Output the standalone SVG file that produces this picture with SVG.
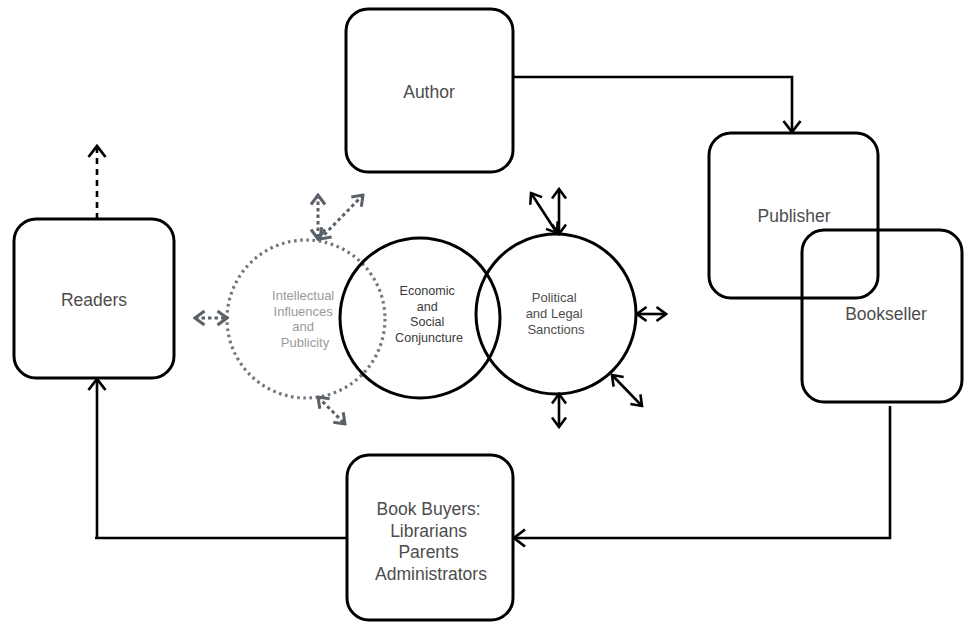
<svg xmlns="http://www.w3.org/2000/svg" width="965" height="623" viewBox="0 0 965 623">
  <style>
    .box { fill: none; stroke: #000; stroke-width: 3; }
    .lbl { font-family: "Liberation Sans", Arial, sans-serif; fill: #4d4d4d; text-anchor: middle; }
    .conn { fill: none; stroke: #000; stroke-width: 2.6; }
    .ring { fill: none; stroke: #000; stroke-width: 3; }
    .dotring { fill: none; stroke: #70767e; stroke-width: 3.2; stroke-dasharray: 2.6 3.6; }
    .dbl { fill: none; stroke: #000; stroke-width: 2.6; marker-start: url(#ah); marker-end: url(#ah); }
    .gdbl { fill: none; stroke: #5b6169; stroke-width: 3; stroke-dasharray: 3.5 3; marker-start: url(#gh); marker-end: url(#gh); }
  </style>
  <defs>
    <!-- large open arrowhead for the flow lines -->
    <marker id="big" viewBox="-14 -10 16 20" refX="0" refY="0" markerWidth="16" markerHeight="20" markerUnits="userSpaceOnUse" orient="auto-start-reverse">
      <path d="M-11,-8.5 L0,0 L-11,8.5" fill="none" stroke="#000" stroke-width="2.8"/>
    </marker>
    <!-- smaller heads for the two-way influence arrows -->
    <marker id="ah" viewBox="-12 -9 14 18" refX="0" refY="0" markerWidth="14" markerHeight="18" markerUnits="userSpaceOnUse" orient="auto-start-reverse">
      <path d="M-9.5,-7 L0,0 L-9.5,7" fill="none" stroke="#000" stroke-width="2.6"/>
    </marker>
    <marker id="gh" viewBox="-12 -9 14 18" refX="0" refY="0" markerWidth="14" markerHeight="18" markerUnits="userSpaceOnUse" orient="auto-start-reverse">
      <path d="M-9.5,-7 L0,0 L-9.5,7" fill="none" stroke="#5b6169" stroke-width="3"/>
    </marker>
  </defs>

  <!-- flow connectors -->
  <g id="connectors">
    <polyline class="conn" points="513,77 792,77 792,132" marker-end="url(#big)"/>
    <polyline class="conn" points="890,406 890,538 514,538" marker-end="url(#big)"/>
    <polyline class="conn" points="347,538 95,538"/>
    <line class="conn" x1="97" y1="539" x2="97" y2="379" marker-end="url(#big)"/>
    <line class="conn" x1="97" y1="219" x2="97" y2="146" stroke-dasharray="6 5" marker-end="url(#big)"/>
  </g>

  <g id="author">
    <rect class="box" x="346" y="9" width="167" height="163" rx="22"/>
    <text class="lbl" x="429" y="98" font-size="17.5">Author</text>
  </g>

  <g id="publisher">
    <rect class="box" x="709" y="133" width="169" height="165" rx="22"/>
    <text class="lbl" x="794" y="222" font-size="17.5">Publisher</text>
  </g>

  <g id="bookseller">
    <rect class="box" x="802" y="230" width="160" height="172" rx="22"/>
    <text class="lbl" x="886" y="320" font-size="17.5">Bookseller</text>
  </g>

  <g id="readers">
    <rect class="box" x="14" y="219" width="160" height="159" rx="22"/>
    <text class="lbl" x="94" y="306" font-size="17.5">Readers</text>
  </g>

  <g id="book-buyers">
    <rect class="box" x="347" y="455" width="166" height="165" rx="22"/>
    <text class="lbl" x="431" y="515" font-size="17.5">
      <tspan x="431">Book Buyers:</tspan>
      <tspan x="431" dy="21.5">Librarians</tspan>
      <tspan x="431" dy="21.5">Parents</tspan>
      <tspan x="431" dy="21.5">Administrators</tspan>
    </text>
  </g>

  <g id="intellectual-influences">
    <circle class="dotring" cx="306" cy="319" r="79"/>
    <text class="lbl" x="305" y="300" font-size="13" style="fill:#9a9a9a">
      <tspan x="305">Intellectual</tspan>
      <tspan x="305" dy="15.7">Influences</tspan>
      <tspan x="305" dy="15.7">and</tspan>
      <tspan x="305" dy="15.7">Publicity</tspan>
    </text>
    <line class="gdbl" x1="318" y1="195" x2="318" y2="239"/>
    <line class="gdbl" x1="363" y1="195" x2="320" y2="239"/>
    <line class="gdbl" x1="195" y1="318" x2="227" y2="318"/>
    <line class="gdbl" x1="318" y1="397" x2="345" y2="424"/>
  </g>

  <g id="economic-social">
    <circle class="ring" cx="420" cy="318" r="80"/>
    <text class="lbl" x="429" y="295" font-size="12.6" style="fill:#3a3a3a">
      <tspan x="429">Economic</tspan>
      <tspan x="429" dy="15.7">and</tspan>
      <tspan x="429" dy="15.7">Social</tspan>
      <tspan x="429" dy="15.7">Conjuncture</tspan>
    </text>
  </g>

  <g id="political-legal">
    <circle class="ring" cx="556" cy="314" r="80"/>
    <text class="lbl" x="556" y="302" font-size="13">
      <tspan x="556">Political</tspan>
      <tspan x="556" dy="16">and Legal</tspan>
      <tspan x="556" dy="16">Sanctions</tspan>
    </text>
    <line class="dbl" x1="559" y1="189" x2="559" y2="234"/>
    <line class="dbl" x1="531" y1="193" x2="557" y2="233"/>
    <line class="dbl" x1="637" y1="314" x2="666" y2="314"/>
    <line class="dbl" x1="559" y1="394" x2="559" y2="427"/>
    <line class="dbl" x1="612" y1="375" x2="642" y2="406"/>
  </g>
</svg>
